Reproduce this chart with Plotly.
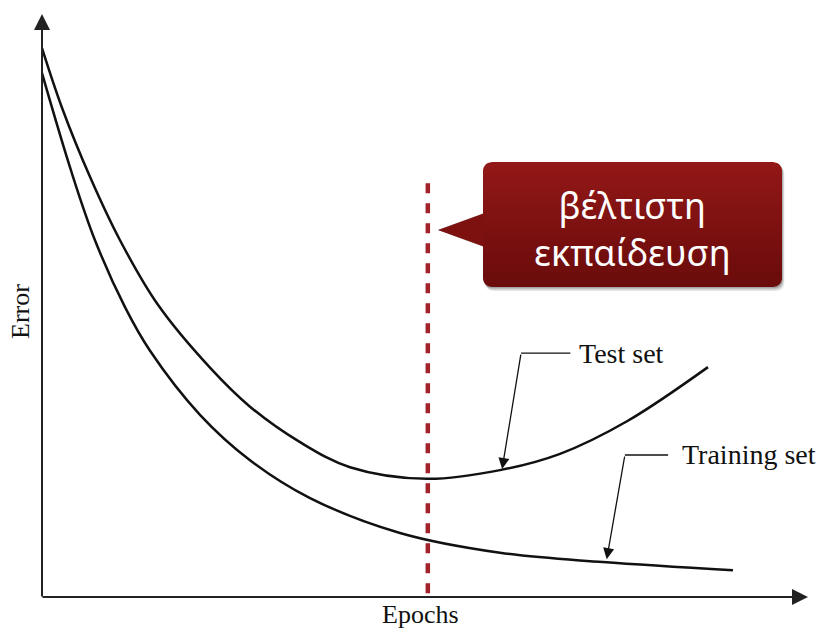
import math
import plotly.graph_objects as go

# ---------------- data ----------------
epochs_test = [0, 2.60, 6.33, 10.29, 15.30, 22.16, 27.44, 34.04, 40.63, 50.79, 60.42, 68.34, 77.18, 87.86]
error_test = [94.3, 84.2, 72.2, 61.3, 50.2, 39.4, 32.7, 26.6, 22.3, 20.3, 21.8, 24.6, 30.2, 39.5]

epochs_train = [0, 3.92, 6.99, 10.95, 14.25, 20.84, 27.44, 35.36, 47.23, 60.42, 73.99, 91.16]
error_train = [90.0, 72.9, 61.3, 49.8, 42.3, 31.3, 23.5, 17.0, 11.0, 7.6, 6.0, 4.6]

optimal_epoch = 50.9
optimal_line_top = 71.1

series_labels = ["Test set", "Training set"]
axis_labels = ["Epochs", "Error"]
callout_text = "βέλτιστη<br>εκπαίδευση"

# ---------------- layout geometry ----------------
W, H = 819, 633
L, R, T, B = 42, 19, 15, 36
PW, PH = W - L - R, H - T - B


def PX(p):
    return (p - L) / PW


def PY(p):
    return (H - B - p) / PH


fig = go.Figure()

fig.add_trace(go.Scatter(x=epochs_test, y=error_test, mode="lines", name=series_labels[0],
                         line=dict(color="#111111", width=2.5, shape="spline", smoothing=1.0),
                         hoverinfo="skip"))
fig.add_trace(go.Scatter(x=epochs_train, y=error_train, mode="lines", name=series_labels[1],
                         line=dict(color="#111111", width=2.5, shape="spline", smoothing=1.0),
                         hoverinfo="skip"))

shapes = []
annotations = []

# dashed optimal line
shapes.append(dict(type="line", xref="x", yref="y", x0=optimal_epoch, x1=optimal_epoch,
                   y0=optimal_line_top, y1=0, line=dict(color="#a2222a", width=4.5, dash="10px,10px"),
                   layer="above"))

# ---------------- callout box ----------------
bx0, bx1, by0, by1, rr = 483, 782, 162, 287, 9
tip = (438, 230)
pt_top, pt_bot = 213, 247


def rounded_path(x0, y0, x1, y1, r, pointer=False):
    s = f"M{PX(x0 + r)},{PY(y0)} L{PX(x1 - r)},{PY(y0)} Q{PX(x1)},{PY(y0)} {PX(x1)},{PY(y0 + r)} "
    s += f"L{PX(x1)},{PY(y1 - r)} Q{PX(x1)},{PY(y1)} {PX(x1 - r)},{PY(y1)} "
    s += f"L{PX(x0 + r)},{PY(y1)} Q{PX(x0)},{PY(y1)} {PX(x0)},{PY(y1 - r)} "
    if pointer:
        s += f"L{PX(x0)},{PY(pt_bot)} L{PX(tip[0])},{PY(tip[1])} L{PX(x0)},{PY(pt_top)} "
    s += f"L{PX(x0)},{PY(y0 + r)} Q{PX(x0)},{PY(y0)} {PX(x0 + r)},{PY(y0)} Z"
    return s


# shadow
for off, alpha in [(4, 0.10), (2.5, 0.14), (1.2, 0.16)]:
    shapes.append(dict(type="path", xref="paper", yref="paper",
                       path=rounded_path(bx0 + off * 0.6, by0 + off, bx1 + off * 0.6, by1 + off, rr, True),
                       fillcolor=f"rgba(0,0,0,{alpha})", line=dict(width=0), layer="above"))

top_c = (146, 24, 23)
bot_c = (106, 11, 11)


def col_at(y):
    t = (y - by0) / (by1 - by0)
    t = min(max(t, 0), 1)
    c = [round(a + (b - a) * t) for a, b in zip(top_c, bot_c)]
    return f"rgb({c[0]},{c[1]},{c[2]})"


# pointer
shapes.append(dict(type="path", xref="paper", yref="paper",
                   path=f"M{PX(bx0 + 2)},{PY(pt_bot)} L{PX(tip[0])},{PY(tip[1])} L{PX(bx0 + 2)},{PY(pt_top)} Z",
                   fillcolor=col_at(tip[1]), line=dict(width=0), layer="above"))


def extent(y):
    dx = 0.0
    if y < by0 + rr:
        d = by0 + rr - y
        dx = rr - math.sqrt(max(rr * rr - d * d, 0))
    elif y > by1 - rr:
        d = y - (by1 - rr)
        dx = rr - math.sqrt(max(rr * rr - d * d, 0))
    return bx0 + dx, bx1 - dx


n_strips = 25
step = (by1 - by0) / n_strips
for i in range(n_strips):
    ya = by0 + i * step
    yb = min(by0 + (i + 1) * step + 0.6, by1)
    ys = [ya + (yb - ya) * k / 6 for k in range(7)]
    left = [(extent(y)[0], y) for y in ys]
    right = [(extent(y)[1], y) for y in reversed(ys)]
    pts = left + right
    p = "M" + " L".join(f"{PX(x)},{PY(y)}" for x, y in pts) + " Z"
    shapes.append(dict(type="path", xref="paper", yref="paper", path=p,
                       fillcolor=col_at((ya + yb) / 2), line=dict(width=0), layer="above"))

annotations.append(dict(xref="paper", yref="paper", x=PX(632.5), y=PY(229), text=callout_text,
                        showarrow=False, xanchor="center", yanchor="middle", align="center",
                        font=dict(family="Noto Sans", size=36, color="white")))

# ---------------- axes with arrows ----------------
annotations.append(dict(xref="paper", yref="paper", x=PX(L), y=PY(14), ax=0, ay=(H - B) - 14 + 1,
                        axref="pixel", ayref="pixel", text="", showarrow=True,
                        arrowhead=2, arrowsize=1.6, arrowwidth=2, arrowcolor="#222222", standoff=0))
annotations.append(dict(xref="paper", yref="paper", x=PX(808), y=PY(H - B), ax=-(808 - L + 1), ay=0,
                        axref="pixel", ayref="pixel", text="", showarrow=True,
                        arrowhead=2, arrowsize=1.6, arrowwidth=2, arrowcolor="#222222", standoff=0))

serif = "Liberation Serif"
annotations.append(dict(xref="paper", yref="paper", x=PX(420), y=PY(615), text=axis_labels[0],
                        showarrow=False, xanchor="center", yanchor="middle",
                        font=dict(family=serif, size=26, color="#111111")))
annotations.append(dict(xref="paper", yref="paper", x=PX(20), y=PY(312), text=axis_labels[1],
                        showarrow=False, xanchor="center", yanchor="middle", textangle=-90,
                        font=dict(family=serif, size=26, color="#111111")))

# ---------------- series labels with leader arrows ----------------
label_specs = [
    # (label, corner_x, corner_y, line_end_x, text_x, tip_x, tip_y)
    (series_labels[0], 63.2, 41.9, 69.7, 70.6, 60.7, 22.0),
    (series_labels[1], 76.9, 24.4, 82.6, 84.2, 74.5, 6.5),
]
for lab, cx, cy, lx, tx, tipx, tipy in label_specs:
    shapes.append(dict(type="line", xref="x", yref="y", x0=cx, y0=cy, x1=lx, y1=cy,
                       line=dict(color="#111111", width=1.3), layer="above"))
    annotations.append(dict(xref="x", yref="y", x=tipx, y=tipy, ax=cx, ay=cy, axref="x", ayref="y",
                            text="", showarrow=True, arrowhead=2, arrowsize=1.7, arrowwidth=1.3,
                            arrowcolor="#111111", standoff=0))
    annotations.append(dict(xref="x", yref="y", x=tx, y=cy, text=lab, showarrow=False,
                            xanchor="left", yanchor="middle",
                            font=dict(family=serif, size=28, color="#111111")))

fig.update_layout(
    width=W, height=H, autosize=False,
    margin=dict(l=L, r=R, t=T, b=B, pad=0),
    paper_bgcolor="white", plot_bgcolor="white",
    showlegend=False,
    xaxis=dict(range=[0, 100], visible=False, fixedrange=True),
    yaxis=dict(range=[0, 100], visible=False, fixedrange=True),
    shapes=shapes, annotations=annotations,
)

fig.write_html("out.html", config={"displayModeBar": False, "staticPlot": True},
               post_script="document.body.style.margin='0';document.body.style.overflow='hidden';")
